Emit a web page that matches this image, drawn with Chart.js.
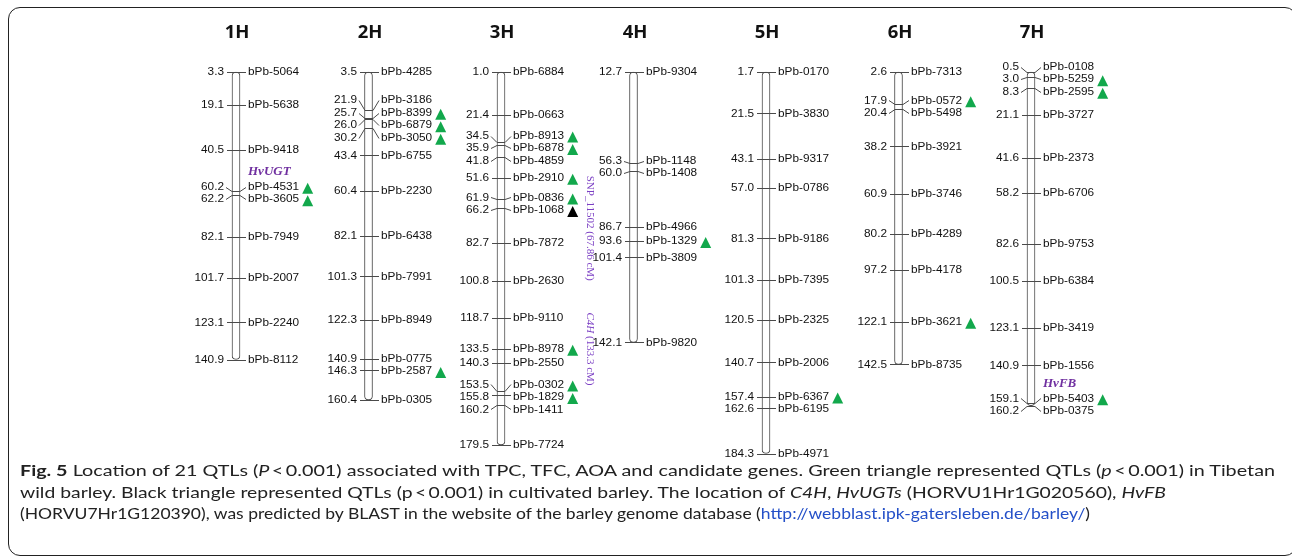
<!DOCTYPE html>
<html>
<head>
<meta charset="utf-8">
<script src="https://cdn.jsdelivr.net/npm/chart.js@4/dist/chart.umd.min.js"></script>
<style>
  html, body { margin: 0; padding: 0; background: #fff; }
  #wrap { position: relative; width: 1292px; height: 559px; overflow: hidden; }
  #frame { position: absolute; left: 8px; top: 7px; width: 1289px; height: 549px;
           border: 1.5px solid #222; border-radius: 12px; box-sizing: border-box; }
  #map { position: absolute; left: 0; top: 0; }
  .cap { position: absolute; left: 20px; white-space: nowrap; font-family: Lato, "Open Sans", sans-serif;
         font-size: 16px; line-height: 20px; color: #222; transform-origin: 0 50%; }
  .cap b { font-weight: 700; }
  .cap a { color: #2450c8; text-decoration: none; }
</style>
</head>
<body>
<div id="wrap">
  <div id="frame"></div>
  <canvas id="map" width="1292" height="559"></canvas>
  <div class="cap" id="cap1" style="top:460px"><b>Fig. 5</b> Location of 21 QTLs (<i>P</i>&thinsp;&lt;&thinsp;0.001) associated with TPC, TFC, AOA and candidate genes. Green triangle represented QTLs (<i>p</i>&thinsp;&lt;&thinsp;0.001) in Tibetan</div>
  <div class="cap" id="cap2" style="top:482px">wild barley. Black triangle represented QTLs (p&thinsp;&lt;&thinsp;0.001) in cultivated barley. The location of <i>C4H</i>, <i>HvUGTs</i> (HORVU1Hr1G020560), <i>HvFB</i></div>
  <div class="cap" id="cap3" style="top:503px">(HORVU7Hr1G120390), was predicted by BLAST in the website of the barley genome database (<a href="#">http://webblast.ipk-gatersleben.de/barley/</a>)</div>
</div>
<script>
// Linkage groups and their markers (positions in cM)
const chromosomes = ['1H', '2H', '3H', '4H', '5H', '6H', '7H'];

const cM_1H = [3.3, 19.1, 40.5, 60.2, 62.2, 82.1, 101.7, 123.1, 140.9];
const markers_1H = ['bPb-5064', 'bPb-5638', 'bPb-9418', 'bPb-4531', 'bPb-3605', 'bPb-7949', 'bPb-2007', 'bPb-2240', 'bPb-8112'];

const cM_2H = [3.5, 21.9, 25.7, 26.0, 30.2, 43.4, 60.4, 82.1, 101.3, 122.3, 140.9, 146.3, 160.4];
const markers_2H = ['bPb-4285', 'bPb-3186', 'bPb-8399', 'bPb-6879', 'bPb-3050', 'bPb-6755', 'bPb-2230', 'bPb-6438', 'bPb-7991', 'bPb-8949', 'bPb-0775', 'bPb-2587', 'bPb-0305'];

const cM_3H = [1.0, 21.4, 34.5, 35.9, 41.8, 51.6, 61.9, 66.2, 82.7, 100.8, 118.7, 133.5, 140.3, 153.5, 155.8, 160.2, 179.5];
const markers_3H = ['bPb-6884', 'bPb-0663', 'bPb-8913', 'bPb-6878', 'bPb-4859', 'bPb-2910', 'bPb-0836', 'bPb-1068', 'bPb-7872', 'bPb-2630', 'bPb-9110', 'bPb-8978', 'bPb-2550', 'bPb-0302', 'bPb-1829', 'bPb-1411', 'bPb-7724'];

const cM_4H = [12.7, 56.3, 60.0, 86.7, 93.6, 101.4, 142.1];
const markers_4H = ['bPb-9304', 'bPb-1148', 'bPb-1408', 'bPb-4966', 'bPb-1329', 'bPb-3809', 'bPb-9820'];

const cM_5H = [1.7, 21.5, 43.1, 57.0, 81.3, 101.3, 120.5, 140.7, 157.4, 162.6, 184.3];
const markers_5H = ['bPb-0170', 'bPb-3830', 'bPb-9317', 'bPb-0786', 'bPb-9186', 'bPb-7395', 'bPb-2325', 'bPb-2006', 'bPb-6367', 'bPb-6195', 'bPb-4971'];

const cM_6H = [2.6, 17.9, 20.4, 38.2, 60.9, 80.2, 97.2, 122.1, 142.5];
const markers_6H = ['bPb-7313', 'bPb-0572', 'bPb-5498', 'bPb-3921', 'bPb-3746', 'bPb-4289', 'bPb-4178', 'bPb-3621', 'bPb-8735'];

const cM_7H = [0.5, 3.0, 8.3, 21.1, 41.6, 58.2, 82.6, 100.5, 123.1, 140.9, 159.1, 160.2];
const markers_7H = ['bPb-0108', 'bPb-5259', 'bPb-2595', 'bPb-3727', 'bPb-2373', 'bPb-6706', 'bPb-9753', 'bPb-6384', 'bPb-3419', 'bPb-1556', 'bPb-5403', 'bPb-0375'];

// QTL markers (P < 0.001)
const qtlWild = ['bPb-4531', 'bPb-3605', 'bPb-8399', 'bPb-6879', 'bPb-3050', 'bPb-2587',
                 'bPb-8913', 'bPb-6878', 'bPb-2910', 'bPb-0836', 'bPb-8978', 'bPb-0302', 'bPb-1829',
                 'bPb-1329', 'bPb-6367', 'bPb-0572', 'bPb-3621', 'bPb-5259', 'bPb-2595', 'bPb-5403'];
const qtlCultivated = ['bPb-1068'];

// Candidate genes beside a marker
const geneNames = ['HvUGT', 'HvFB'];
const geneMarkers = ['bPb-4531', 'bPb-5403'];

// Genes placed on 3H by position
const genes3H = ['SNP_11502', 'C4H'];
const genes3H_cM = [67.86, 133.3];
const genes3H_text = ['SNP_11502 (67.86 cM)', 'C4H (133.3 cM)'];

const positions = [cM_1H, cM_2H, cM_3H, cM_4H, cM_5H, cM_6H, cM_7H];
const markerNames = [markers_1H, markers_2H, markers_3H, markers_4H, markers_5H, markers_6H, markers_7H];

const SPAN_CM = 190;          // length shown on each vertical axis
const LABEL_GAP = 12.5;       // minimum spacing between marker labels (px)
const LINE = '#4a4a4a';
const TEXT = '#111111';
const GREEN = '#12a84c';
const PURPLE = '#7030a0';
const LABEL_FONT = '11.8px "Liberation Sans", Arial, sans-serif';

// push overlapping labels apart, keeping each group centred on its markers
function spreadLabels(ys, gap) {
  const groups = [];
  ys.forEach(y => {
    groups.push({ n: 1, sum: y });
    while (groups.length > 1) {
      const b = groups[groups.length - 1], a = groups[groups.length - 2];
      const aEnd = a.sum / a.n + (a.n - 1) * gap / 2;
      const bStart = b.sum / b.n - (b.n - 1) * gap / 2;
      if (bStart - aEnd < gap) { a.n += b.n; a.sum += b.sum; groups.pop(); }
      else break;
    }
  });
  const out = [];
  groups.forEach(g => {
    const start = g.sum / g.n - (g.n - 1) * gap / 2;
    for (let k = 0; k < g.n; k++) out.push(start + k * gap);
  });
  return out;
}

function fmt(v) { return v.toFixed(1); }

const yScales = {};
positions.forEach((p, i) => {
  yScales['y' + (i + 1)] = { type: 'linear', display: false, reverse: true, min: p[0], max: p[0] + SPAN_CM };
});

const bodyDatasets = positions.map((p, i) => ({
  type: 'bar',
  label: chromosomes[i],
  data: [{ x: i + 1, y: [p[0], p[p.length - 1]] }],
  yAxisID: 'y' + (i + 1),
  xAxisID: 'x',
  grouped: false,
  barThickness: 8,
  backgroundColor: '#ffffff',
  borderColor: LINE,
  borderWidth: 1,
  borderRadius: 4,
  borderSkipped: false,
  clip: false
}));

const mapPlugin = {
  id: 'linkageMap',
  afterDatasetsDraw(chart) {
    const ctx = chart.ctx;
    const xs = chart.scales.x;
    ctx.save();
    positions.forEach((p, i) => {
      const ys = chart.scales['y' + (i + 1)];
      const x = Math.round(xs.getPixelForValue(i + 1));
      const names = markerNames[i];
      const my = p.map(v => ys.getPixelForValue(v));
      const ly = spreadLabels(my, LABEL_GAP);

      // group title
      ctx.fillStyle = '#111';
      ctx.font = 'bold 18.5px "Open Sans", sans-serif';
      ctx.textAlign = 'center';
      ctx.textBaseline = 'middle';
      ctx.fillText(chromosomes[i], x + 1, 33);

      // tick marks and connectors
      ctx.strokeStyle = LINE;
      ctx.lineWidth = 1;
      p.forEach((v, k) => {
        const m = Math.round(my[k]) + 0.5;
        const l = Math.round(ly[k]) + 0.5;
        ctx.beginPath();
        if (Math.abs(ly[k] - my[k]) < 1.5) {
          ctx.moveTo(x - 9, m); ctx.lineTo(x + 10, m);
        } else {
          ctx.moveTo(x - 10, l); ctx.lineTo(x - 4, m); ctx.lineTo(x + 4, m); ctx.lineTo(x + 10, l);
        }
        ctx.stroke();
      });

      // labels
      ctx.font = LABEL_FONT;
      ctx.textBaseline = 'middle';
      p.forEach((v, k) => {
        const l = ly[k];
        ctx.fillStyle = TEXT;
        ctx.textAlign = 'right';
        ctx.fillText(fmt(v), x - 12, l);
        ctx.textAlign = 'left';
        ctx.fillText(names[k], x + 12, l);
        const w = ctx.measureText(names[k]).width;
        let tri = null;
        if (qtlWild.includes(names[k])) tri = GREEN;
        if (qtlCultivated.includes(names[k])) tri = '#000';
        if (tri) {
          const tx = x + 12 + w + 3;
          ctx.fillStyle = tri;
          ctx.beginPath();
          ctx.moveTo(tx, l + 7);
          ctx.lineTo(tx + 11, l + 7);
          ctx.lineTo(tx + 5.5, l - 4);
          ctx.closePath();
          ctx.fill();
        }
        const gi = geneMarkers.indexOf(names[k]);
        if (gi >= 0) {
          ctx.fillStyle = PURPLE;
          ctx.font = 'italic bold 13px "Liberation Serif", "Times New Roman", serif';
          ctx.fillText(geneNames[gi], x + 12, l - 15);
          ctx.font = LABEL_FONT;
        }
      });

      // gene positions written along 3H
      if (chromosomes[i] === '3H') {
        genes3H.forEach((g, j) => {
          const gy = ys.getPixelForValue(genes3H_cM[j]);
          ctx.save();
          ctx.translate(x + 89, gy - 36);
          ctx.rotate(Math.PI / 2);
          ctx.fillStyle = '#7b3fc4';
          ctx.textAlign = 'left';
          ctx.textBaseline = 'middle';
          const text = genes3H_text[j];
          if (g === 'C4H') {
            ctx.font = 'italic 11px "Liberation Serif", serif';
            ctx.fillText(g, 0, 0);
            const w0 = ctx.measureText(g).width;
            ctx.font = '11px "Liberation Serif", serif';
            ctx.fillText(text.slice(g.length), w0, 0);
          } else {
            ctx.font = '11px "Liberation Serif", serif';
            ctx.fillText(text, 0, 0);
          }
          ctx.restore();
        });
      }
    });
    ctx.restore();
  }
};

new Chart(document.getElementById('map'), {
  data: { datasets: bodyDatasets },
  options: {
    responsive: false,
    animation: false,
    devicePixelRatio: 1,
    layout: { padding: { left: 103.5, right: 128.5, top: 72, bottom: 90 } },
    scales: Object.assign({ x: { type: 'linear', display: false, offset: false, min: 0, max: 8 } }, yScales),
    plugins: { legend: { display: false }, tooltip: { enabled: false }, title: { display: false } }
  },
  plugins: [mapPlugin]
});

// fit each caption line to its measured width
[['cap1', 1255], ['cap2', 1146], ['cap3', 1070]].forEach(([id, target]) => {
  const el = document.getElementById(id);
  const w = el.getBoundingClientRect().width;
  el.style.transform = 'scaleX(' + (target / w) + ')';
});
</script>
</body>
</html>
